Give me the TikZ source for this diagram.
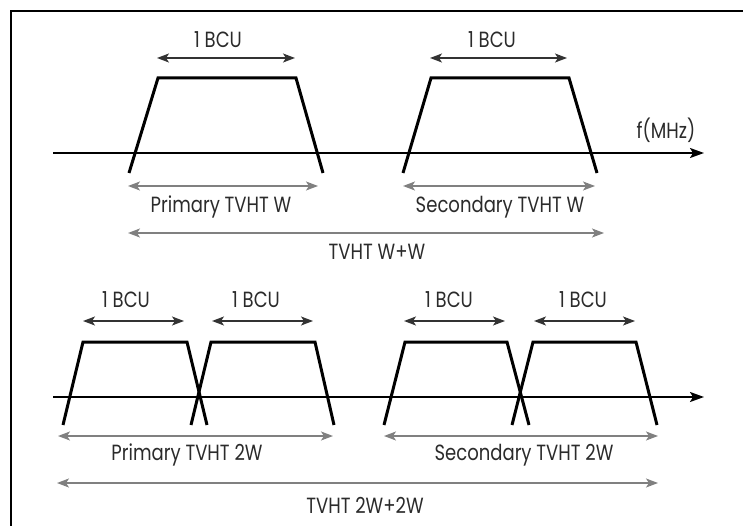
\documentclass[tikz,border=0pt]{standalone}
\usepackage{fontspec}
\setmainfont{Poppins}[FakeStretch=0.82]
\usetikzlibrary{arrows.meta}
\definecolor{txt}{HTML}{2B2B2B}
\definecolor{garr}{HTML}{808080}
\definecolor{darr}{HTML}{333333}
\tikzset{
  lbl/.style={inner sep=0pt, text=txt, font=\fontsize{22}{22}\selectfont, anchor=center},
  band/.style={line width=3pt, line join=miter, black},
  axis/.style={line width=1.8pt, black, -{Stealth[length=14pt,width=10pt,inset=3pt]}},
  bcu/.style={line width=1.6pt, darr, {Stealth[length=12pt,width=9pt,inset=3pt]}-{Stealth[length=12pt,width=9pt,inset=3pt]}},
  span/.style={line width=1.6pt, garr, {Stealth[length=12pt,width=9pt,inset=3pt]}-{Stealth[length=12pt,width=9pt,inset=3pt]}},
  frame/.style={line width=2.5pt, black}
}
\begin{document}
\begin{tikzpicture}[x=1pt,y=-1pt]
\useasboundingbox (0,0) rectangle (743,526);
% frame
\coordinate (fr1) at (11,526);
\coordinate (fr2) at (11,11);
\coordinate (fr3) at (743,11);
\draw[frame] (fr1) -- (fr2) -- (fr3);
% axes
\coordinate (ax1s) at (53,153); \coordinate (ax1e) at (704,153);
\coordinate (ax2s) at (53,397); \coordinate (ax2e) at (704,397);
\draw[axis] (ax1s) -- (ax1e);
\draw[axis] (ax2s) -- (ax2e);
\node[lbl] (fmhz) at (666,130) {f(MHz)};
% upper bands
\coordinate (a1) at (129,173); \coordinate (a2) at (158,78); \coordinate (a3) at (296,78); \coordinate (a4) at (323,173);
\coordinate (b1) at (403,173); \coordinate (b2) at (431,78); \coordinate (b3) at (569,78); \coordinate (b4) at (597,173);
\draw[band] (a1) -- (a2) -- (a3) -- (a4);
\draw[band] (b1) -- (b2) -- (b3) -- (b4);
% lower bands
\coordinate (c1) at (63,425); \coordinate (c2) at (83,342); \coordinate (c3) at (187,342); \coordinate (c4) at (207,425);
\coordinate (d1) at (191,425); \coordinate (d2) at (211,342); \coordinate (d3) at (315,342); \coordinate (d4) at (334,425);
\coordinate (e1) at (384,425); \coordinate (e2) at (405,342); \coordinate (e3) at (507,342); \coordinate (e4) at (529,425);
\coordinate (f1) at (512,425); \coordinate (f2) at (533,342); \coordinate (f3) at (636,342); \coordinate (f4) at (657,425);
\draw[band] (c1) -- (c2) -- (c3) -- (c4);
\draw[band] (d1) -- (d2) -- (d3) -- (d4);
\draw[band] (e1) -- (e2) -- (e3) -- (e4);
\draw[band] (f1) -- (f2) -- (f3) -- (f4);
% BCU arrows
\coordinate (u1l) at (157,58); \coordinate (u1r) at (295,58);
\coordinate (u2l) at (430,58); \coordinate (u2r) at (567,58);
\coordinate (l1l) at (83,321); \coordinate (l1r) at (184,321);
\coordinate (l2l) at (212,321); \coordinate (l2r) at (313,321);
\coordinate (l3l) at (404,321); \coordinate (l3r) at (505,321);
\coordinate (l4l) at (534,321); \coordinate (l4r) at (635,321);
\draw[bcu] (u1l) -- (u1r);
\draw[bcu] (u2l) -- (u2r);
\draw[bcu] (l1l) -- (l1r);
\draw[bcu] (l2l) -- (l2r);
\draw[bcu] (l3l) -- (l3r);
\draw[bcu] (l4l) -- (l4r);
\node[lbl] (t1) at (218,40) {1 BCU};
\node[lbl] (t2) at (492,40) {1 BCU};
\node[lbl] (t3) at (126,300) {1 BCU};
\node[lbl] (t4) at (256,300) {1 BCU};
\node[lbl] (t5) at (449,300) {1 BCU};
\node[lbl] (t6) at (583,300) {1 BCU};
% span arrows
\coordinate (s1l) at (128,186); \coordinate (s1r) at (318,186);
\coordinate (s2l) at (403,186); \coordinate (s2r) at (595,186);
\coordinate (s3l) at (128,233); \coordinate (s3r) at (604,233);
\coordinate (s4l) at (58,436); \coordinate (s4r) at (333,436);
\coordinate (s5l) at (384,436); \coordinate (s5r) at (658,436);
\coordinate (s6l) at (57,483); \coordinate (s6r) at (658,483);
\draw[span] (s1l) -- (s1r);
\draw[span] (s2l) -- (s2r);
\draw[span] (s3l) -- (s3r);
\draw[span] (s4l) -- (s4r);
\draw[span] (s5l) -- (s5r);
\draw[span] (s6l) -- (s6r);
\node[lbl] (p1) at (221,207) {Primary TVHT W};
\node[lbl] (p2) at (500,207) {Secondary TVHT W};
\node[lbl] (p3) at (377,252) {TVHT W+W};
\node[lbl] (p4) at (187,455) {Primary TVHT 2W};
\node[lbl] (p5) at (524,455) {Secondary TVHT 2W};
\node[lbl] (p6) at (365,505) {TVHT 2W+2W};
\end{tikzpicture}
\end{document}
